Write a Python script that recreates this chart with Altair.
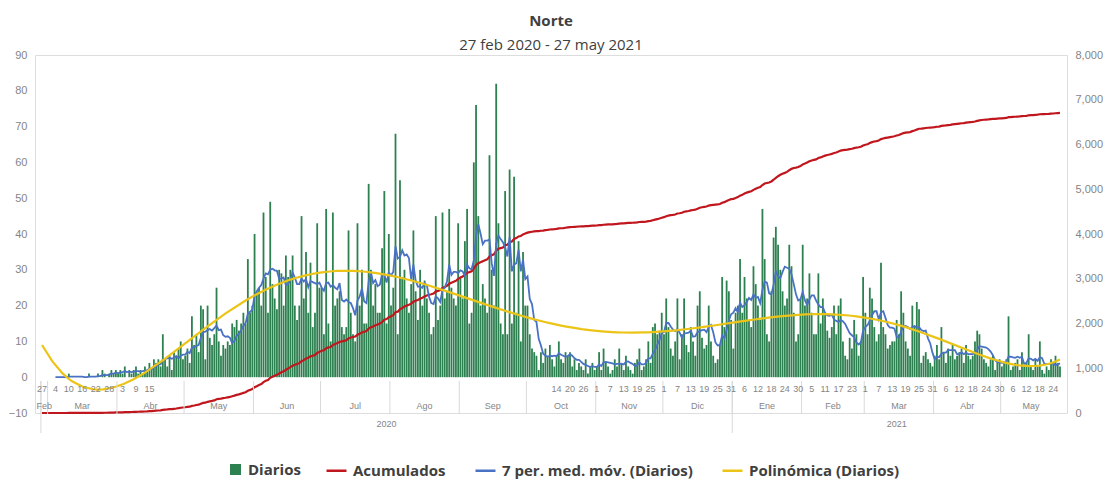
import altair as alt
import pandas as pd
import numpy as np

# ---------------- data ----------------
START = "2020-02-27"
END = "2021-05-27"

feb20 = [0, 0, 0]
mar20 = [0, 0, 0, 0, 0, 0, 0, 0, 0, 1, 0, 0, 0, 0, 0, 0, 0, 0, 1, 0,
         0, 0, 1, 0, 2, 1, 0, 1, 2, 1, 2]
apr20 = [1, 2, 1, 3, 0, 2, 1, 2, 3, 1, 2, 1, 3, 2, 4, 2, 5, 4, 5, 3,
         12, 5, 3, 6, 2, 7, 6, 8, 10, 5]
may20 = [6, 8, 4, 17, 9, 12, 7, 20, 19, 5, 20, 11, 9, 12, 25, 10, 6, 9, 8, 10,
         9, 15, 14, 16, 13, 15, 18, 15, 33, 18, 20]
jun20 = [40, 24, 25, 20, 46, 28, 18, 49, 26, 22, 19, 30, 29, 20, 34, 28, 30, 34, 20, 16,
         20, 45, 22, 35, 18, 32, 14, 18, 43, 25]
jul20 = [25, 12, 47, 15, 10, 46, 20, 22, 24, 14, 12, 14, 41, 18, 12, 10, 43, 20, 30, 15,
         15, 54, 30, 20, 26, 18, 18, 36, 52, 15, 40]
aug20 = [20, 25, 68, 12, 55, 28, 30, 22, 18, 26, 41, 24, 16, 30, 20, 27, 22, 18, 12, 14,
         45, 16, 20, 46, 22, 24, 47, 25, 22, 20, 43]
sep20 = [28, 22, 38, 47, 15, 18, 60, 76, 45, 20, 26, 22, 18, 62, 30, 20, 82, 43, 15, 12,
         52, 12, 58, 15, 56, 18, 38, 10, 35, 20]
oct20 = [20, 12, 8, 7, 6, 2, 7, 4, 8, 6, 9, 5, 3, 6, 10, 5, 4, 7, 6, 7,
         3, 5, 2, 4, 3, 2, 5, 1, 3, 4, 2]
nov20 = [3, 7, 2, 8, 4, 3, 1, 2, 5, 3, 8, 4, 2, 6, 3, 2, 1, 4, 5, 8,
         2, 3, 5, 10, 4, 14, 15, 12, 13, 18]
dec20 = [12, 22, 14, 8, 6, 10, 22, 5, 12, 22, 9, 7, 14, 10, 6, 20, 24, 11, 8, 9,
         20, 10, 6, 4, 5, 9, 28, 14, 27, 24, 16]
jan21 = [8, 18, 20, 33, 18, 28, 22, 16, 14, 31, 26, 20, 16, 47, 33, 12, 10, 24, 39, 42,
         37, 30, 24, 20, 22, 37, 31, 18, 10, 12, 22]
feb21 = [37, 20, 22, 29, 18, 12, 12, 29, 15, 22, 18, 13, 11, 14, 20, 12, 20, 22, 10, 6,
         5, 11, 8, 16, 12, 6, 10, 28]
mar21 = [18, 12, 25, 22, 14, 10, 12, 32, 14, 12, 8, 9, 10, 10, 16, 12, 24, 18, 10, 8,
         6, 20, 14, 21, 19, 4, 6, 7, 5, 4, 3]
apr21 = [6, 9, 5, 14, 7, 4, 8, 6, 9, 5, 6, 7, 8, 4, 9, 6, 5, 6, 10, 13,
         12, 8, 5, 4, 3, 5, 6, 2, 4, 5]
may21 = [3, 4, 5, 17, 2, 3, 4, 5, 2, 7, 3, 4, 12, 3, 2, 5, 3, 10, 2, 1,
         3, 2, 5, 4, 6, 4, 3]

day_tick_dates = ["2020-02-27", "2020-03-04", "2020-03-10", "2020-03-16", "2020-03-22",
                  "2020-03-28", "2020-04-03", "2020-04-09", "2020-04-15",
                  "2020-10-14", "2020-10-20", "2020-10-26", "2020-11-01", "2020-11-07",
                  "2020-11-13", "2020-11-19", "2020-11-25", "2020-12-01", "2020-12-07",
                  "2020-12-13", "2020-12-19", "2020-12-25", "2020-12-31", "2021-01-06",
                  "2021-01-12", "2021-01-18", "2021-01-24", "2021-01-30", "2021-02-05",
                  "2021-02-11", "2021-02-17", "2021-02-23", "2021-03-01", "2021-03-07",
                  "2021-03-13", "2021-03-19", "2021-03-25", "2021-03-31", "2021-04-06",
                  "2021-04-12", "2021-04-18", "2021-04-24", "2021-04-30", "2021-05-06",
                  "2021-05-12", "2021-05-18", "2021-05-24"]
month_names = ["Feb", "Mar", "Abr", "May", "Jun", "Jul", "Ago", "Sep", "Oct", "Nov",
               "Dic", "Ene", "Feb", "Mar", "Abr", "May"]
month_first = ["2020-02-27", "2020-03-01", "2020-04-01", "2020-05-01", "2020-06-01",
               "2020-07-01", "2020-08-01", "2020-09-01", "2020-10-01", "2020-11-01",
               "2020-12-01", "2021-01-01", "2021-02-01", "2021-03-01", "2021-04-01",
               "2021-05-01"]
year_names = ["2020", "2021"]
year_first = ["2020-02-27", "2021-01-01"]

series_names = ["Acumulados", "7 per. med. móv. (Diarios)", "Polinómica (Diarios)"]
bar_name = "Diarios"

# ---------------- tables ----------------
daily = (feb20 + mar20 + apr20 + may20 + jun20 + jul20 + aug20 + sep20 + oct20 +
         nov20 + dec20 + jan21 + feb21 + mar21 + apr21 + may21)
start_ts = pd.Timestamp(START)


def idx(s):
    return (pd.Timestamp(s) - start_ts).days


df = pd.DataFrame({"d": np.arange(len(daily)), "v": daily})
last = idx(END)

ticks_df = pd.DataFrame({"d": [idx(s) for s in day_tick_dates],
                         "t": [str(pd.Timestamp(s).day) for s in day_tick_dates]})
m_start = [idx(s) for s in month_first]
m_end = [s - 1 for s in m_start[1:]] + [last]
months_df = pd.DataFrame({"d": [(a + b) / 2 for a, b in zip(m_start, m_end)],
                          "t": month_names})
msep_df = pd.DataFrame({"d": [s - 0.5 for s in m_start]})
y_start = [idx(s) for s in year_first]
y_end = [s - 1 for s in y_start[1:]] + [last]
years_df = pd.DataFrame({"d": [(a + b) / 2 for a, b in zip(y_start, y_end)],
                         "t": year_names})
ysep_df = pd.DataFrame({"d": [s - 0.5 for s in y_start]})

# ---------------- styling ----------------
GREEN = "#2d8150"
RED = "#c0161d"
BLUE = "#4a72c4"
YELLOW = "#ecc417"
GRAY = "#858585"
FONT = "Open Sans"

xscale = alt.Scale(domain=[-0.9, 455.9], nice=False, zero=False)
yleft = alt.Scale(domain=[-10, 90], nice=False, zero=False)
yright = alt.Scale(domain=[0, 8000], nice=False, zero=False)
X = alt.X("d:Q", scale=xscale, axis=None)

legend_common = dict(orient="none", direction="horizontal", title=None,
                     labelFontSize=15, labelFont=FONT, labelFontWeight="bold",
                     labelColor="#404040", labelOffset=5, columnPadding=24,
                     labelLimit=400)

base = alt.Chart(df)

bars = base.mark_bar(size=1.8).transform_calculate(s="'" + bar_name + "'").encode(
    x=X,
    y=alt.Y("v:Q", scale=yleft,
            axis=alt.Axis(orient="left", values=list(range(-10, 91, 10)), title=None,
                          domain=False, ticks=False, grid=False, labelColor=GRAY,
                          labelFontSize=11, labelFont="Liberation Sans", labelPadding=8)),
    fill=alt.Fill("s:N", scale=alt.Scale(domain=[bar_name], range=[GREEN]),
                  legend=alt.Legend(**legend_common, legendX=193, legendY=407,
                                    symbolType="square", symbolSize=121,
                                    symbolStrokeWidth=0)),
)

stroke_scale = alt.Scale(domain=series_names, range=[RED, BLUE, YELLOW])
stroke_legend = alt.Legend(**legend_common, legendX=290, legendY=404,
                           symbolType="stroke", symbolSize=400, symbolStrokeWidth=2.5)

cum = base.transform_window(
    cum="sum(v)", frame=[None, 0], sort=[alt.SortField("d")]
).transform_calculate(s="'" + series_names[0] + "'").mark_line(strokeWidth=2.2).encode(
    x=X,
    y=alt.Y("cum:Q", scale=yright,
            axis=alt.Axis(orient="right", values=list(range(0, 8001, 1000)),
                          format=",.0f", title=None, domain=False, ticks=False,
                          grid=False, labelColor=GRAY, labelFontSize=11,
                          labelFont="Liberation Sans", labelPadding=8)),
    stroke=alt.Stroke("s:N", scale=stroke_scale, legend=stroke_legend),
)

ma = base.transform_window(
    ma="mean(v)", frame=[-6, 0], sort=[alt.SortField("d")]
).transform_filter("datum.d >= 6").transform_calculate(
    s="'" + series_names[1] + "'"
).mark_line(strokeWidth=1.8).encode(
    x=X,
    y=alt.Y("ma:Q", scale=yleft, axis=None),
    stroke=alt.Stroke("s:N", scale=stroke_scale, legend=stroke_legend),
)

poly = base.transform_calculate(t="datum.d / 100").transform_regression(
    "t", "v", method="poly", order=6, extent=[0, 4.55]
).transform_calculate(d="datum.t * 100", s="'" + series_names[2] + "'").mark_line(
    strokeWidth=2.2
).encode(
    x=X,
    y=alt.Y("v:Q", scale=yleft, axis=None),
    stroke=alt.Stroke("s:N", scale=stroke_scale, legend=stroke_legend),
)

# -------- multi-level category axis below the plot --------
label_style = dict(font="Liberation Sans", fontSize=9, color=GRAY, baseline="middle",
                   align="center")
day_text = alt.Chart(ticks_df).mark_text(**label_style).encode(
    x=X, y=alt.value(334), text="t:N")
month_text = alt.Chart(months_df).mark_text(**label_style).encode(
    x=X, y=alt.value(351), text="t:N")
year_text = alt.Chart(years_df).mark_text(**label_style).encode(
    x=X, y=alt.value(369), text="t:N")
month_sep = alt.Chart(msep_df).mark_rule(color="#d9d9d9", strokeWidth=1).encode(
    x=X, y=alt.value(326), y2=alt.value(359))
year_sep = alt.Chart(ysep_df).mark_rule(color="#d9d9d9", strokeWidth=1).encode(
    x=X, y=alt.value(326), y2=alt.value(378))

chart = alt.layer(
    bars, cum, ma, poly, month_sep, year_sep, day_text, month_text, year_text
).resolve_scale(y="independent").properties(
    width=1032, height=358,
    padding={"left": 27, "top": 47, "right": 37, "bottom": 67},
    autosize=alt.AutoSizeParams(type="none"),
    title=alt.TitleParams("Norte", subtitle="27 feb 2020 - 27 may 2021", font=FONT,
                          fontSize=15, fontWeight="bold", color="#404040",
                          subtitleFont=FONT, subtitleFontSize=15,
                          subtitleColor="#404040", subtitlePadding=9,
                          anchor="middle", offset=-4),
).configure_view(stroke=None).configure(background="white")

chart.save("out.html", embed_options={"renderer": "svg", "actions": False})
